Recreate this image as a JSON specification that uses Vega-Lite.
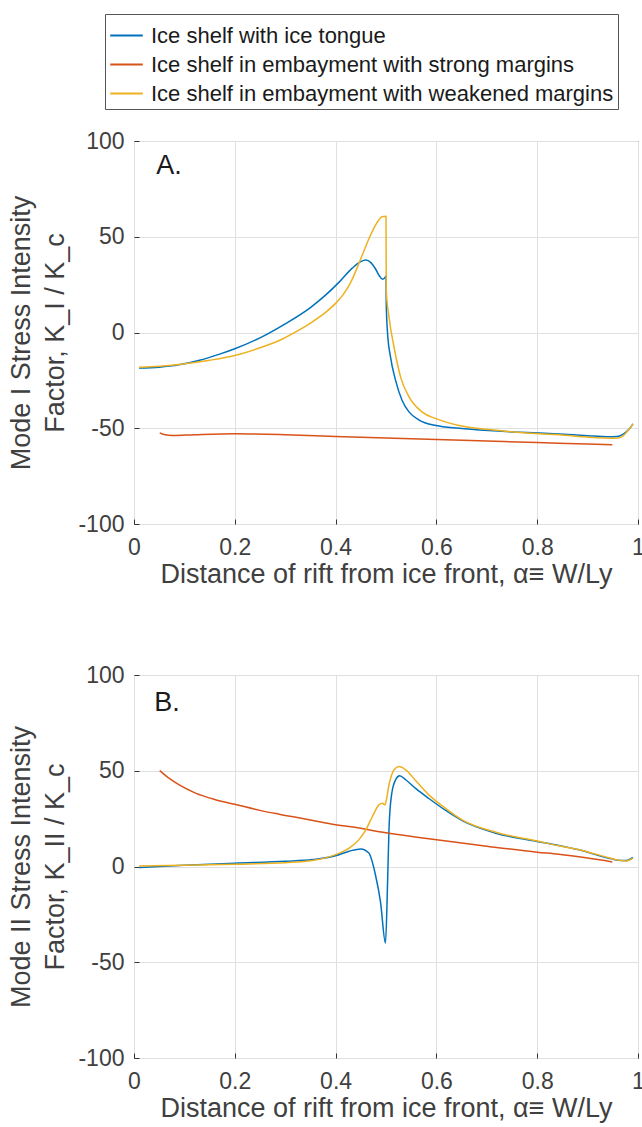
{
  "$schema": "https://vega.github.io/schema/vega-lite/v6.json",
  "background": "white",
  "padding": {"left": 7, "top": 13, "right": 3, "bottom": 5},
  "datasets": {
    "curves": [
      {"p":"A","s":"Ice shelf with ice tongue","x":0.01,"y":-18.6},
      {"p":"A","s":"Ice shelf with ice tongue","x":0.05,"y":-18.1},
      {"p":"A","s":"Ice shelf with ice tongue","x":0.089,"y":-16.9},
      {"p":"A","s":"Ice shelf with ice tongue","x":0.13,"y":-14.5},
      {"p":"A","s":"Ice shelf with ice tongue","x":0.17,"y":-11.3},
      {"p":"A","s":"Ice shelf with ice tongue","x":0.2,"y":-8.5},
      {"p":"A","s":"Ice shelf with ice tongue","x":0.25,"y":-2.8},
      {"p":"A","s":"Ice shelf with ice tongue","x":0.3,"y":4.5},
      {"p":"A","s":"Ice shelf with ice tongue","x":0.35,"y":13},
      {"p":"A","s":"Ice shelf with ice tongue","x":0.38,"y":19.5},
      {"p":"A","s":"Ice shelf with ice tongue","x":0.407,"y":26.3},
      {"p":"A","s":"Ice shelf with ice tongue","x":0.433,"y":33.6},
      {"p":"A","s":"Ice shelf with ice tongue","x":0.45,"y":37},
      {"p":"A","s":"Ice shelf with ice tongue","x":0.46,"y":37.8},
      {"p":"A","s":"Ice shelf with ice tongue","x":0.47,"y":36.5},
      {"p":"A","s":"Ice shelf with ice tongue","x":0.479,"y":33.3},
      {"p":"A","s":"Ice shelf with ice tongue","x":0.487,"y":29.5},
      {"p":"A","s":"Ice shelf with ice tongue","x":0.493,"y":27.8},
      {"p":"A","s":"Ice shelf with ice tongue","x":0.497,"y":28.3},
      {"p":"A","s":"Ice shelf with ice tongue","x":0.5,"y":29.5},
      {"p":"A","s":"Ice shelf with ice tongue","x":0.5005,"y":15},
      {"p":"A","s":"Ice shelf with ice tongue","x":0.503,"y":0},
      {"p":"A","s":"Ice shelf with ice tongue","x":0.509,"y":-12.9},
      {"p":"A","s":"Ice shelf with ice tongue","x":0.519,"y":-25},
      {"p":"A","s":"Ice shelf with ice tongue","x":0.532,"y":-35.5},
      {"p":"A","s":"Ice shelf with ice tongue","x":0.546,"y":-41.6},
      {"p":"A","s":"Ice shelf with ice tongue","x":0.565,"y":-45.6},
      {"p":"A","s":"Ice shelf with ice tongue","x":0.599,"y":-48.6},
      {"p":"A","s":"Ice shelf with ice tongue","x":0.645,"y":-50},
      {"p":"A","s":"Ice shelf with ice tongue","x":0.704,"y":-51.2},
      {"p":"A","s":"Ice shelf with ice tongue","x":0.75,"y":-51.9},
      {"p":"A","s":"Ice shelf with ice tongue","x":0.804,"y":-52.5},
      {"p":"A","s":"Ice shelf with ice tongue","x":0.843,"y":-53},
      {"p":"A","s":"Ice shelf with ice tongue","x":0.9,"y":-53.9},
      {"p":"A","s":"Ice shelf with ice tongue","x":0.94,"y":-54.4},
      {"p":"A","s":"Ice shelf with ice tongue","x":0.959,"y":-54.3},
      {"p":"A","s":"Ice shelf with ice tongue","x":0.968,"y":-53.5},
      {"p":"A","s":"Ice shelf with ice tongue","x":0.976,"y":-52},
      {"p":"A","s":"Ice shelf with ice tongue","x":0.984,"y":-50},
      {"p":"A","s":"Ice shelf with ice tongue","x":0.99,"y":-47.7},

      {"p":"A","s":"Ice shelf in embayment with strong margins","x":0.051,"y":-52.4},
      {"p":"A","s":"Ice shelf in embayment with strong margins","x":0.06,"y":-53.3},
      {"p":"A","s":"Ice shelf in embayment with strong margins","x":0.076,"y":-53.8},
      {"p":"A","s":"Ice shelf in embayment with strong margins","x":0.12,"y":-53.4},
      {"p":"A","s":"Ice shelf in embayment with strong margins","x":0.2,"y":-52.9},
      {"p":"A","s":"Ice shelf in embayment with strong margins","x":0.3,"y":-53.4},
      {"p":"A","s":"Ice shelf in embayment with strong margins","x":0.4,"y":-54.3},
      {"p":"A","s":"Ice shelf in embayment with strong margins","x":0.5,"y":-55.1},
      {"p":"A","s":"Ice shelf in embayment with strong margins","x":0.6,"y":-55.9},
      {"p":"A","s":"Ice shelf in embayment with strong margins","x":0.7,"y":-56.7},
      {"p":"A","s":"Ice shelf in embayment with strong margins","x":0.8,"y":-57.5},
      {"p":"A","s":"Ice shelf in embayment with strong margins","x":0.843,"y":-57.8},
      {"p":"A","s":"Ice shelf in embayment with strong margins","x":0.9,"y":-58.2},
      {"p":"A","s":"Ice shelf in embayment with strong margins","x":0.949,"y":-58.6},

      {"p":"A","s":"Ice shelf in embayment with weakened margins","x":0.01,"y":-18.1},
      {"p":"A","s":"Ice shelf in embayment with weakened margins","x":0.05,"y":-17.6},
      {"p":"A","s":"Ice shelf in embayment with weakened margins","x":0.089,"y":-16.7},
      {"p":"A","s":"Ice shelf in embayment with weakened margins","x":0.15,"y":-14.5},
      {"p":"A","s":"Ice shelf in embayment with weakened margins","x":0.2,"y":-12},
      {"p":"A","s":"Ice shelf in embayment with weakened margins","x":0.25,"y":-8},
      {"p":"A","s":"Ice shelf in embayment with weakened margins","x":0.288,"y":-4.2},
      {"p":"A","s":"Ice shelf in embayment with weakened margins","x":0.32,"y":0.2},
      {"p":"A","s":"Ice shelf in embayment with weakened margins","x":0.354,"y":5.6},
      {"p":"A","s":"Ice shelf in embayment with weakened margins","x":0.38,"y":10.5},
      {"p":"A","s":"Ice shelf in embayment with weakened margins","x":0.4,"y":15.2},
      {"p":"A","s":"Ice shelf in embayment with weakened margins","x":0.415,"y":19.8},
      {"p":"A","s":"Ice shelf in embayment with weakened margins","x":0.43,"y":26.2},
      {"p":"A","s":"Ice shelf in embayment with weakened margins","x":0.443,"y":34},
      {"p":"A","s":"Ice shelf in embayment with weakened margins","x":0.455,"y":41.8},
      {"p":"A","s":"Ice shelf in embayment with weakened margins","x":0.465,"y":48.3},
      {"p":"A","s":"Ice shelf in embayment with weakened margins","x":0.475,"y":54},
      {"p":"A","s":"Ice shelf in embayment with weakened margins","x":0.485,"y":58.5},
      {"p":"A","s":"Ice shelf in embayment with weakened margins","x":0.492,"y":60.4},
      {"p":"A","s":"Ice shelf in embayment with weakened margins","x":0.5,"y":60.7},
      {"p":"A","s":"Ice shelf in embayment with weakened margins","x":0.5005,"y":22},
      {"p":"A","s":"Ice shelf in embayment with weakened margins","x":0.506,"y":8},
      {"p":"A","s":"Ice shelf in embayment with weakened margins","x":0.516,"y":-7.7},
      {"p":"A","s":"Ice shelf in embayment with weakened margins","x":0.529,"y":-23.3},
      {"p":"A","s":"Ice shelf in embayment with weakened margins","x":0.546,"y":-33.8},
      {"p":"A","s":"Ice shelf in embayment with weakened margins","x":0.572,"y":-41.6},
      {"p":"A","s":"Ice shelf in embayment with weakened margins","x":0.599,"y":-45},
      {"p":"A","s":"Ice shelf in embayment with weakened margins","x":0.645,"y":-48.6},
      {"p":"A","s":"Ice shelf in embayment with weakened margins","x":0.704,"y":-50.7},
      {"p":"A","s":"Ice shelf in embayment with weakened margins","x":0.804,"y":-52.9},
      {"p":"A","s":"Ice shelf in embayment with weakened margins","x":0.843,"y":-53.4},
      {"p":"A","s":"Ice shelf in embayment with weakened margins","x":0.903,"y":-54.7},
      {"p":"A","s":"Ice shelf in embayment with weakened margins","x":0.956,"y":-55.2},
      {"p":"A","s":"Ice shelf in embayment with weakened margins","x":0.968,"y":-54.5},
      {"p":"A","s":"Ice shelf in embayment with weakened margins","x":0.976,"y":-52.5},
      {"p":"A","s":"Ice shelf in embayment with weakened margins","x":0.984,"y":-50},
      {"p":"A","s":"Ice shelf in embayment with weakened margins","x":0.99,"y":-47.7},

      {"p":"B","s":"Ice shelf with ice tongue","x":0.01,"y":-0.5},
      {"p":"B","s":"Ice shelf with ice tongue","x":0.1,"y":0.6},
      {"p":"B","s":"Ice shelf with ice tongue","x":0.2,"y":1.7},
      {"p":"B","s":"Ice shelf with ice tongue","x":0.3,"y":2.7},
      {"p":"B","s":"Ice shelf with ice tongue","x":0.354,"y":3.6},
      {"p":"B","s":"Ice shelf with ice tongue","x":0.4,"y":5.6},
      {"p":"B","s":"Ice shelf with ice tongue","x":0.427,"y":8},
      {"p":"B","s":"Ice shelf with ice tongue","x":0.45,"y":9.2},
      {"p":"B","s":"Ice shelf with ice tongue","x":0.466,"y":7},
      {"p":"B","s":"Ice shelf with ice tongue","x":0.479,"y":-4.3},
      {"p":"B","s":"Ice shelf with ice tongue","x":0.489,"y":-18.3},
      {"p":"B","s":"Ice shelf with ice tongue","x":0.499,"y":-40},
      {"p":"B","s":"Ice shelf with ice tongue","x":0.503,"y":-9.6},
      {"p":"B","s":"Ice shelf with ice tongue","x":0.506,"y":20},
      {"p":"B","s":"Ice shelf with ice tongue","x":0.511,"y":37.4},
      {"p":"B","s":"Ice shelf with ice tongue","x":0.519,"y":45.3},
      {"p":"B","s":"Ice shelf with ice tongue","x":0.527,"y":47.4},
      {"p":"B","s":"Ice shelf with ice tongue","x":0.539,"y":45.3},
      {"p":"B","s":"Ice shelf with ice tongue","x":0.56,"y":40.5},
      {"p":"B","s":"Ice shelf with ice tongue","x":0.585,"y":35.5},
      {"p":"B","s":"Ice shelf with ice tongue","x":0.62,"y":29},
      {"p":"B","s":"Ice shelf with ice tongue","x":0.651,"y":24},
      {"p":"B","s":"Ice shelf with ice tongue","x":0.718,"y":17.4},
      {"p":"B","s":"Ice shelf with ice tongue","x":0.8,"y":13.1},
      {"p":"B","s":"Ice shelf with ice tongue","x":0.843,"y":11},
      {"p":"B","s":"Ice shelf with ice tongue","x":0.883,"y":8.7},
      {"p":"B","s":"Ice shelf with ice tongue","x":0.942,"y":4.3},
      {"p":"B","s":"Ice shelf with ice tongue","x":0.96,"y":3.3},
      {"p":"B","s":"Ice shelf with ice tongue","x":0.976,"y":3.1},
      {"p":"B","s":"Ice shelf with ice tongue","x":0.99,"y":4.7},

      {"p":"B","s":"Ice shelf in embayment with strong margins","x":0.051,"y":50.1},
      {"p":"B","s":"Ice shelf in embayment with strong margins","x":0.07,"y":46},
      {"p":"B","s":"Ice shelf in embayment with strong margins","x":0.089,"y":42.7},
      {"p":"B","s":"Ice shelf in embayment with strong margins","x":0.122,"y":38.3},
      {"p":"B","s":"Ice shelf in embayment with strong margins","x":0.16,"y":35},
      {"p":"B","s":"Ice shelf in embayment with strong margins","x":0.2,"y":32.5},
      {"p":"B","s":"Ice shelf in embayment with strong margins","x":0.25,"y":29.3},
      {"p":"B","s":"Ice shelf in embayment with strong margins","x":0.288,"y":27.3},
      {"p":"B","s":"Ice shelf in embayment with strong margins","x":0.35,"y":24.3},
      {"p":"B","s":"Ice shelf in embayment with strong margins","x":0.4,"y":21.8},
      {"p":"B","s":"Ice shelf in embayment with strong margins","x":0.427,"y":20.9},
      {"p":"B","s":"Ice shelf in embayment with strong margins","x":0.5,"y":17.6},
      {"p":"B","s":"Ice shelf in embayment with strong margins","x":0.585,"y":14.5},
      {"p":"B","s":"Ice shelf in embayment with strong margins","x":0.7,"y":10.6},
      {"p":"B","s":"Ice shelf in embayment with strong margins","x":0.8,"y":7.5},
      {"p":"B","s":"Ice shelf in embayment with strong margins","x":0.843,"y":6.4},
      {"p":"B","s":"Ice shelf in embayment with strong margins","x":0.9,"y":4.4},
      {"p":"B","s":"Ice shelf in embayment with strong margins","x":0.949,"y":2.4},

      {"p":"B","s":"Ice shelf in embayment with weakened margins","x":0.01,"y":0.3},
      {"p":"B","s":"Ice shelf in embayment with weakened margins","x":0.1,"y":0.6},
      {"p":"B","s":"Ice shelf in embayment with weakened margins","x":0.2,"y":1.2},
      {"p":"B","s":"Ice shelf in embayment with weakened margins","x":0.3,"y":2},
      {"p":"B","s":"Ice shelf in embayment with weakened margins","x":0.354,"y":3.1},
      {"p":"B","s":"Ice shelf in embayment with weakened margins","x":0.4,"y":6.2},
      {"p":"B","s":"Ice shelf in embayment with weakened margins","x":0.427,"y":9.6},
      {"p":"B","s":"Ice shelf in embayment with weakened margins","x":0.446,"y":13.9},
      {"p":"B","s":"Ice shelf in embayment with weakened margins","x":0.46,"y":19.1},
      {"p":"B","s":"Ice shelf in embayment with weakened margins","x":0.473,"y":26.1},
      {"p":"B","s":"Ice shelf in embayment with weakened margins","x":0.486,"y":32.2},
      {"p":"B","s":"Ice shelf in embayment with weakened margins","x":0.493,"y":33},
      {"p":"B","s":"Ice shelf in embayment with weakened margins","x":0.498,"y":32.2},
      {"p":"B","s":"Ice shelf in embayment with weakened margins","x":0.5,"y":33.9},
      {"p":"B","s":"Ice shelf in embayment with weakened margins","x":0.506,"y":42.7},
      {"p":"B","s":"Ice shelf in embayment with weakened margins","x":0.516,"y":50.5},
      {"p":"B","s":"Ice shelf in embayment with weakened margins","x":0.526,"y":52.2},
      {"p":"B","s":"Ice shelf in embayment with weakened margins","x":0.539,"y":50.5},
      {"p":"B","s":"Ice shelf in embayment with weakened margins","x":0.56,"y":44.5},
      {"p":"B","s":"Ice shelf in embayment with weakened margins","x":0.585,"y":37.4},
      {"p":"B","s":"Ice shelf in embayment with weakened margins","x":0.62,"y":30},
      {"p":"B","s":"Ice shelf in embayment with weakened margins","x":0.651,"y":24.4},
      {"p":"B","s":"Ice shelf in embayment with weakened margins","x":0.718,"y":17.9},
      {"p":"B","s":"Ice shelf in embayment with weakened margins","x":0.8,"y":13.3},
      {"p":"B","s":"Ice shelf in embayment with weakened margins","x":0.843,"y":10.8},
      {"p":"B","s":"Ice shelf in embayment with weakened margins","x":0.883,"y":8.8},
      {"p":"B","s":"Ice shelf in embayment with weakened margins","x":0.942,"y":4.6},
      {"p":"B","s":"Ice shelf in embayment with weakened margins","x":0.96,"y":3.4},
      {"p":"B","s":"Ice shelf in embayment with weakened margins","x":0.976,"y":2.9},
      {"p":"B","s":"Ice shelf in embayment with weakened margins","x":0.99,"y":4.4}
    ],
    "labels": [
      {"p":"A","x":0.044,"y":83,"t":"A."},
      {"p":"B","x":0.04,"y":81.3,"t":"B."}
    ]
  },
  "spacing": 151,
  "bounds": "flush",
  "resolve": {"scale": {"color": "shared"}},
  "vconcat": [
    {
      "width": 504,
      "height": 383,
      "layer": [
        {
          "data": {"name": "curves"},
          "transform": [{"filter": "datum.p === 'A'"}],
          "mark": {"type": "line", "strokeWidth": 1.5, "clip": true, "interpolate": "monotone"},
          "encoding": {
            "x": {"field": "x", "type": "quantitative", "scale": {"domain": [0, 1], "nice": false},
                  "axis": {"values": [0, 0.2, 0.4, 0.6, 0.8, 1], "labelExpr": "'' + datum.value", "title": "Distance of rift from ice front, α≡ W/Ly"}},
            "y": {"field": "y", "type": "quantitative", "scale": {"domain": [-100, 100], "nice": false},
                  "axis": {"values": [-100, -50, 0, 50, 100], "labelExpr": "'' + datum.value", "title": ["Mode I Stress Intensity", "Factor, K_I / K_c"]}},
            "color": {"field": "s", "type": "nominal",
                      "scale": {"domain": ["Ice shelf with ice tongue", "Ice shelf in embayment with strong margins", "Ice shelf in embayment with weakened margins"],
                                "range": ["#0072BD", "#D95319", "#EDB120"]},
                      "legend": {"title": null}}
          }
        },
        {
          "data": {"name": "labels"},
          "transform": [{"filter": "datum.p === 'A'"}],
          "mark": {"type": "text", "align": "left", "baseline": "alphabetic", "fontSize": 27, "font": "Liberation Sans", "color": "#1a1a1a"},
          "encoding": {
            "x": {"field": "x", "type": "quantitative"},
            "y": {"field": "y", "type": "quantitative"},
            "text": {"field": "t"}
          }
        }
      ]
    },
    {
      "width": 504,
      "height": 383,
      "layer": [
        {
          "data": {"name": "curves"},
          "transform": [{"filter": "datum.p === 'B'"}],
          "mark": {"type": "line", "strokeWidth": 1.5, "clip": true, "interpolate": "monotone"},
          "encoding": {
            "x": {"field": "x", "type": "quantitative", "scale": {"domain": [0, 1], "nice": false},
                  "axis": {"values": [0, 0.2, 0.4, 0.6, 0.8, 1], "labelExpr": "'' + datum.value", "title": "Distance of rift from ice front, α≡ W/Ly"}},
            "y": {"field": "y", "type": "quantitative", "scale": {"domain": [-100, 100], "nice": false},
                  "axis": {"values": [-100, -50, 0, 50, 100], "labelExpr": "'' + datum.value", "title": ["Mode II Stress Intensity", "Factor, K_II / K_c"]}},
            "color": {"field": "s", "type": "nominal",
                      "scale": {"domain": ["Ice shelf with ice tongue", "Ice shelf in embayment with strong margins", "Ice shelf in embayment with weakened margins"],
                                "range": ["#0072BD", "#D95319", "#EDB120"]},
                      "legend": {"title": null}}
          }
        },
        {
          "data": {"name": "labels"},
          "transform": [{"filter": "datum.p === 'B'"}],
          "mark": {"type": "text", "align": "left", "baseline": "alphabetic", "fontSize": 27, "font": "Liberation Sans", "color": "#1a1a1a"},
          "encoding": {
            "x": {"field": "x", "type": "quantitative"},
            "y": {"field": "y", "type": "quantitative"},
            "text": {"field": "t"}
          }
        }
      ]
    }
  ],
  "config": {
    "font": "Liberation Sans",
    "view": {"stroke": "#333333", "strokeWidth": 1},
    "axis": {
      "domain": false,
      "grid": true,
      "gridColor": "#e0e0e0",
      "gridWidth": 1,
      "ticks": true,
      "tickSize": -5,
      "tickColor": "#333333",
      "labelFont": "Liberation Sans",
      "labelFontSize": 23,
      "labelColor": "#404040",
      "titleFont": "Liberation Sans",
      "titleFontSize": 27,
      "titleFontWeight": "normal",
      "titleColor": "#404040",
      "labelFlush": false,
      "labelOverlap": false
    },
    "axisX": {"labelPadding": 17, "titlePadding": 2},
    "axisY": {"labelPadding": 15, "titlePadding": 8, "titleLineHeight": 34},
    "legend": {
      "orient": "none",
      "legendX": -29,
      "legendY": -127,
      "strokeColor": "#555555",
      "fillColor": "white",
      "padding": 4,
      "symbolType": "stroke",
      "symbolSize": 1060,
      "symbolStrokeWidth": 2,
      "labelFont": "Liberation Sans",
      "labelFontSize": 22,
      "labelColor": "#1a1a1a",
      "labelLimit": 700,
      "labelOffset": 7,
      "rowPadding": 0
    }
  }
}
